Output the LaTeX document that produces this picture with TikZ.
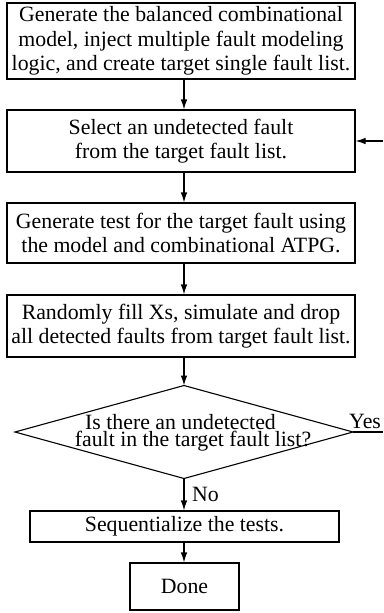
\documentclass[tikz,border=0pt]{standalone}
\usepackage{fontspec}
\setmainfont{Liberation Serif}
\usepackage{tikz}
\usetikzlibrary{positioning}
\usetikzlibrary{shapes.geometric}
\usetikzlibrary{arrows.meta}

\begin{document}
\begin{tikzpicture}[x=1pt,y=-1pt,
	txt/.style={font=\fontsize{21.8}{24.5}\selectfont,align=center,inner sep=0pt},
	stepbox/.style={txt,draw,line width=1.1pt,minimum width=#1},
	stepbox/.default=348pt,
	flow/.style={line width=1.1pt,-{Latex[length=10pt,width=6.5pt]}}]
	\useasboundingbox (0,0) rectangle (383,613);
	% process boxes
	\node [stepbox,minimum height=76pt] (gen) at (181,41)
		{Generate the balanced combinational\\ model, inject multiple fault modeling\\logic, and create target single fault list.};
	\node [stepbox,minimum height=62pt] (sel) at (181,141)
		{Select an undetected fault\\ from the target fault list.};
	\node [stepbox,minimum height=60pt] (atpg) at (181,233)
		{Generate test for the target fault using\\ the model and combinational ATPG.};
	\node [stepbox,minimum height=62pt] (fill) at (181,326)
		{Randomly fill Xs, simulate and drop\\ all detected faults from target fault list.};
	% decision
	\node [draw,diamond,line width=1.1pt,inner sep=0pt,outer sep=0pt,
		minimum width=338pt,minimum height=93pt] (dec) at (184,432) {};
	\node [txt,font=\fontsize{21.8}{17}\selectfont] (dectxt) at (193,433)
		{Is there an undetected\hspace*{25pt}\\fault in the target fault list?};
	\node [stepbox=309pt,minimum height=31pt] (seq) at (184.5,526.5)
		{Sequentialize the tests.};
	\node [stepbox=109pt,minimum height=47pt] (done) at (184.5,586.5) {Done};
	% connectors
	\draw [flow] (gen.south -| dec.north) -- (sel.north -| dec.north);
	\draw [flow] (sel.south -| dec.north) -- (atpg.north -| dec.north);
	\draw [flow] (atpg.south -| dec.north) -- (fill.north -| dec.north);
	\draw [flow] (fill.south -| dec.north) -- (dec.north);
	\draw [flow] (dec.south) -- (seq.north -| dec.south);
	\draw [flow] (seq.south -| dec.south) -- (done.north -| dec.south);
	% loop back
	\coordinate (yesend) at (383,432);
	\coordinate (loopin) at (383,141);
	\draw [line width=1.1pt] (dec.east) -- (yesend);
	\draw [flow] (loopin) -- (sel.east);
	\node [txt,anchor=south west] (yes) at (349,429) {Yes};
	\node [txt,anchor=west] (no) at (192,494) {No};
\end{tikzpicture}
\end{document}
